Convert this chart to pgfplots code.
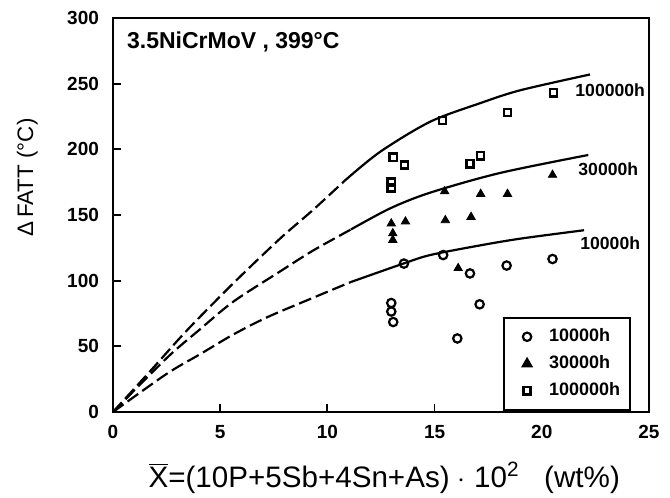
\documentclass[border=0pt]{standalone}
\usepackage{fontspec}
\setmainfont{Liberation Sans}
\usepackage{pgfplots}
\pgfplotsset{compat=1.18}
\pgfplotsset{
  markleg/.style={legend image code/.code={%
    \path[draw=none] (-6.5pt,0pt) -- (11pt,0pt);
    \draw[##1, only marks] plot coordinates {(0pt,0pt)};}},
}
\begin{document}
\begin{tikzpicture}
\begin{axis}[
  scale only axis, width=268pt, height=197pt,
  xmin=0, xmax=25, ymin=0, ymax=300,
  xtick={0,5,10,15,20,25}, ytick={0,50,100,150,200,250,300},
  tick align=inside, tick pos=left, major tick length=4pt,
  axis line style={line width=1.1pt},
  every tick/.style={line width=0.9pt, black},
  /pgf/number format/assume math mode=true,
  ticklabel style={font=\fontsize{9.5}{11}\selectfont\bfseries},
  xticklabel style={yshift=-3pt},
  yticklabel style={xshift=-3.5pt},
  xlabel={$\overline{\hbox{X}}$=(10P+5Sb+4Sn+As) $\cdot$ 10\textsuperscript{2}\ \ \ (wt\%)},
  ylabel={Δ\,FATT (°C)},
  xlabel style={at={(axis description cs:0.506,-0.167)}, anchor=center, font=\fontsize{14.8}{16}\selectfont},
  ylabel style={at={(axis description cs:-0.16,0.595)}, anchor=center, font=\fontsize{11.2}{13}\selectfont},
  legend style={at={(axis description cs:0.7276,0.242)}, anchor=north west, draw=black, line width=1.1pt,
    font=\fontsize{9}{10}\selectfont\bfseries, inner xsep=5pt, inner ysep=5.5pt, row sep=5.5pt,
    nodes={inner sep=0pt, line width=0.4pt}},
  legend cell align=left,
]
% curves (dashed extrapolation + solid)
\addplot[forget plot, black, line width=1.1pt, smooth, dash pattern=on 6.5pt off 2.5pt] coordinates {(0,0) (1.73,31) (3.44,62) (5.61,98) (7.79,132) (9.34,154) (10.8,176)};
\addplot[forget plot, black, line width=1.1pt, smooth] coordinates {(10.8,176) (12.45,198) (14.79,221) (17.1,235) (19,245) (22.25,257)};
\addplot[forget plot, black, line width=1.1pt, smooth, dash pattern=on 6.5pt off 2.5pt] coordinates {(0,0) (2.5,41) (4.06,63) (5.61,84) (7.79,107) (9.34,123) (11.1,139)};
\addplot[forget plot, black, line width=1.1pt, smooth] coordinates {(11.1,139) (12.92,155) (14.79,167) (18.05,182) (22.17,195.7)};
\addplot[forget plot, black, line width=1.1pt, smooth, dash pattern=on 6.5pt off 2.5pt] coordinates {(0,0) (2.5,29) (4.06,44) (5.61,59) (7.17,72) (9.19,86) (11.1,99)};
\addplot[forget plot, black, line width=1.1pt, smooth] coordinates {(11.1,99) (13.54,113) (14.79,119.5) (17,126.5) (19,132) (21.97,138.4)};
% data
\addplot[only marks, mark=o, mark size=2.1pt, mark options={line width=1.1pt, fill=white}, black, markleg] coordinates {
(12.98,83) (12.98,76.5) (13.07,68.5) (13.57,113) (15.4,119.5) (16.06,56) (16.65,105.5) (17.1,82) (18.36,111.5) (20.5,116.5)};
\addlegendentry{10000h}
\addplot[only marks, mark=triangle*, mark size=2.4pt, black, markleg] coordinates {
(12.98,143.5) (13.64,145) (13.05,136) (13.05,131) (15.47,168) (15.5,146) (16.1,109.5) (16.7,148.5) (17.15,166) (18.4,166) (20.5,180.5)};
\addlegendentry{30000h}
\addplot[only marks, mark=square, mark size=1.8pt, mark options={line width=1.2pt, fill=white}, black, markleg] coordinates {
(12.98,175) (12.98,170.5) (13.07,194) (13.6,188) (15.36,222) (16.65,189) (17.15,195) (18.4,228) (20.55,243)};
\addlegendentry{100000h}
\node[anchor=west, font=\fontsize{11.5}{13}\selectfont\bfseries, inner sep=0pt] at (axis cs:0.64,282) {3.5NiCrMoV , 399°C};
\node[anchor=west, font=\fontsize{8.8}{10}\selectfont\bfseries, inner sep=0pt] at (axis cs:21.55,244.7) {100000h};
\node[anchor=west, font=\fontsize{8.8}{10}\selectfont\bfseries, inner sep=0pt] at (axis cs:21.69,185) {30000h};
\node[anchor=west, font=\fontsize{8.8}{10}\selectfont\bfseries, inner sep=0pt] at (axis cs:21.78,128.7) {10000h};
\end{axis}
\pgfresetboundingbox
\useasboundingbox (-56.5pt,-43pt) rectangle (278.5pt,206pt);
\end{tikzpicture}
\end{document}
